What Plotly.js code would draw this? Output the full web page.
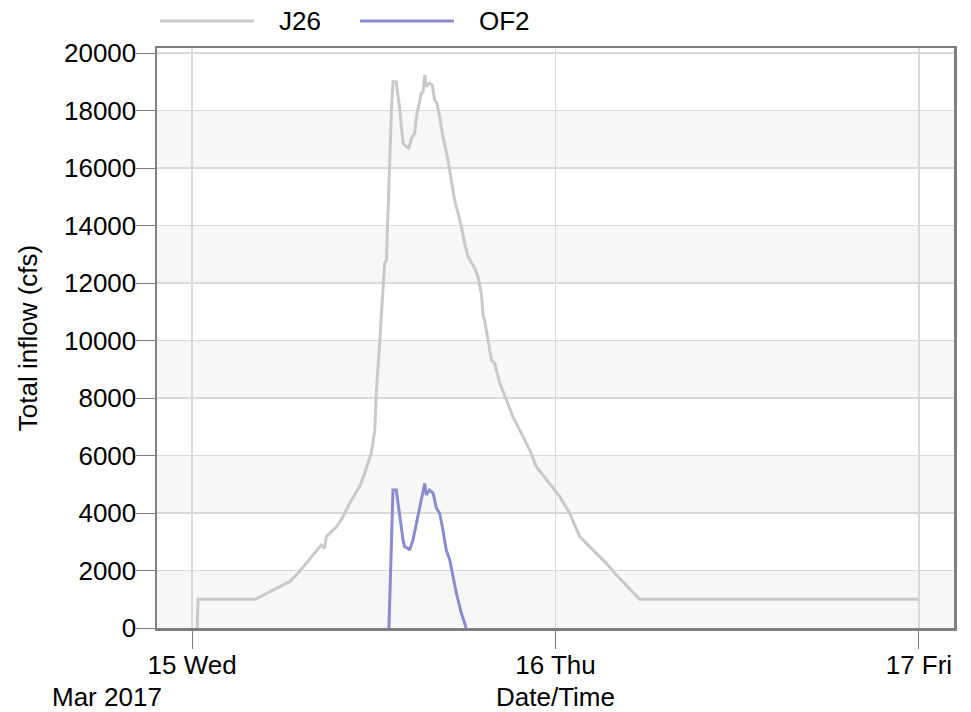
<!DOCTYPE html>
<html>
<head>
<meta charset="utf-8">
<script src="https://cdn.plot.ly/plotly-3.0.1.min.js"></script>
<style>html,body{margin:0;padding:0;background:#fff;}#chart{width:971px;height:712px;}</style>
</head>
<body>
<div id="chart"></div>
<script>
// ---- data ----
var j26Times = [
  "2017-03-15 00:20","2017-03-15 00:24","2017-03-15 04:10","2017-03-15 06:26","2017-03-15 06:59",
  "2017-03-15 07:52","2017-03-15 08:32","2017-03-15 08:45","2017-03-15 08:52","2017-03-15 09:32",
  "2017-03-15 09:58","2017-03-15 10:24","2017-03-15 11:04","2017-03-15 11:24","2017-03-15 11:37",
  "2017-03-15 11:50","2017-03-15 12:04","2017-03-15 12:10","2017-03-15 12:23","2017-03-15 12:36",
  "2017-03-15 12:43","2017-03-15 12:50","2017-03-15 12:56","2017-03-15 13:03","2017-03-15 13:10",
  "2017-03-15 13:16","2017-03-15 13:29","2017-03-15 13:43","2017-03-15 13:56","2017-03-15 14:09",
  "2017-03-15 14:19","2017-03-15 14:29","2017-03-15 14:42","2017-03-15 14:49","2017-03-15 15:02",
  "2017-03-15 15:08","2017-03-15 15:15","2017-03-15 15:22","2017-03-15 15:28","2017-03-15 15:41",
  "2017-03-15 15:52","2017-03-15 16:01","2017-03-15 16:10","2017-03-15 16:21","2017-03-15 16:34",
  "2017-03-15 16:54","2017-03-15 17:07","2017-03-15 17:20","2017-03-15 17:34","2017-03-15 17:47",
  "2017-03-15 18:00","2017-03-15 18:13","2017-03-15 18:40","2017-03-15 18:53","2017-03-15 19:06",
  "2017-03-15 19:13","2017-03-15 19:19","2017-03-15 19:32","2017-03-15 19:46","2017-03-15 19:59",
  "2017-03-15 20:19","2017-03-15 20:46","2017-03-15 21:11","2017-03-15 21:45","2017-03-15 22:18",
  "2017-03-15 22:44","2017-03-15 23:24","2017-03-15 23:50","2017-03-16 00:17","2017-03-16 00:56",
  "2017-03-16 01:36","2017-03-16 02:29","2017-03-16 03:22","2017-03-16 04:01","2017-03-16 05:34",
  "2017-03-17 00:00"
];
var j26Flow = [
  0,1000,1000,1610,1900,
  2480,2890,2770,3180,3520,
  3870,4340,4920,5380,5730,
  6080,6890,8160,9900,11640,
  12690,12800,14540,16280,18020,
  19000,19000,18020,16860,16740,
  16690,17030,17210,17780,18370,
  18600,18650,19240,18830,18950,
  18890,18370,18250,17780,17090,
  16280,15580,14890,14420,13960,
  13380,12920,12510,12220,11640,
  10890,10710,9960,9320,9210,
  8510,7930,7350,6770,6190,
  5610,5150,4860,4570,3990,
  3180,2710,2250,1840,1000,
  1000
];
var of2Times = [
  "2017-03-15 13:00","2017-03-15 13:16","2017-03-15 13:29","2017-03-15 13:43","2017-03-15 13:56",
  "2017-03-15 14:02","2017-03-15 14:16","2017-03-15 14:22","2017-03-15 14:35","2017-03-15 14:49",
  "2017-03-15 14:55","2017-03-15 15:08","2017-03-15 15:22","2017-03-15 15:28","2017-03-15 15:41",
  "2017-03-15 15:55","2017-03-15 16:08","2017-03-15 16:21","2017-03-15 16:34","2017-03-15 16:47",
  "2017-03-15 17:01","2017-03-15 17:27","2017-03-15 17:47","2017-03-15 18:06"
];
var of2Flow = [
  0,4800,4800,3870,3060,
  2830,2770,2710,3060,3640,
  3870,4450,5030,4630,4800,
  4690,4170,3990,3410,2710,
  2370,1220,510,0
];
var seriesNames = ["J26", "OF2"];
var xTickVals = ["2017-03-15", "2017-03-16", "2017-03-17"];
var xTickText = ["15 Wed", "16 Thu", "17 Fri"];
var yTickVals = [0,2000,4000,6000,8000,10000,12000,14000,16000,18000,20000];
var yTickText = ["0","2000","4000","6000","8000","10000","12000","14000","16000","18000","20000"];
var bandStarts = [0,4000,8000,12000,16000];
var bandWidth = 2000;

// ---- styles ----
var FONT = "Liberation Sans, Arial, sans-serif";
var colJ26 = "#c9c9c9";
var colOF2 = "#8b8bcf";

var traces = [
  {x: j26Times, y: j26Flow, name: seriesNames[0], type: "scatter", mode: "lines",
   line: {color: colJ26, width: 3}, showlegend: false},
  {x: of2Times, y: of2Flow, name: seriesNames[1], type: "scatter", mode: "lines",
   line: {color: colOF2, width: 3}, showlegend: false}
];

var shapes = bandStarts.map(function (b) {
  return {type: "rect", xref: "paper", yref: "y", x0: 0, x1: 1, y0: b, y1: b + bandWidth,
          fillcolor: "#f7f7f7", line: {width: 0}, layer: "below"};
});
// legend samples
shapes.push({type: "line", xref: "paper", yref: "paper", x0: 0.0038, x1: 0.1217, y0: 1.0466, y1: 1.0466,
             line: {color: colJ26, width: 3}});
shapes.push({type: "line", xref: "paper", yref: "paper", x0: 0.2547, x1: 0.3726, y0: 1.0466, y1: 1.0466,
             line: {color: colOF2, width: 3}});

var annotations = [
  {text: seriesNames[0], xref: "paper", yref: "paper", x: 0.1506, y: 1.0466, xanchor: "left", yanchor: "middle",
   showarrow: false, font: {family: FONT, size: 26, color: "#000"}},
  {text: seriesNames[1], xref: "paper", yref: "paper", x: 0.4011, y: 1.0466, xanchor: "left", yanchor: "middle",
   showarrow: false, font: {family: FONT, size: 26, color: "#000"}},
  {text: "Mar 2017", xref: "paper", yref: "paper", x: -0.1343, y: -0.119, xanchor: "left", yanchor: "middle",
   showarrow: false, font: {family: FONT, size: 26, color: "#000"}}
];

var layout = {
  width: 971, height: 712,
  margin: {l: 157, r: 17, t: 48, b: 84, pad: 0},
  paper_bgcolor: "#fff", plot_bgcolor: "#fff",
  font: {family: FONT, size: 26, color: "#000"},
  showlegend: false,
  xaxis: {
    type: "date",
    range: ["2017-03-14 21:41", "2017-03-17 02:19"],
    tickmode: "array", tickvals: xTickVals, ticktext: xTickText,
    ticks: "outside", ticklen: 18, tickcolor: "#7a7a7a", tickwidth: 1,
    ticklabelstandoff: -6,
    showgrid: true, gridcolor: "#d9d9d9", gridwidth: 1.5,
    showline: true, linecolor: "#7f7f7f", linewidth: 2.5, mirror: true,
    zeroline: false,
    tickfont: {family: FONT, size: 26, color: "#000"},
    title: {text: "Date/Time", font: {family: FONT, size: 26, color: "#000"}, standoff: 14}
  },
  yaxis: {
    range: [0, 20174],
    tickmode: "array", tickvals: yTickVals, ticktext: yTickText,
    ticks: "outside", ticklen: 19, tickcolor: "#7a7a7a", tickwidth: 1,
    ticklabelstandoff: -6,
    showgrid: true, gridcolor: "#d9d9d9", gridwidth: 1.5,
    showline: true, linecolor: "#7f7f7f", linewidth: 2.5, mirror: true,
    zeroline: false,
    tickfont: {family: FONT, size: 26, color: "#000"},
    title: {text: "Total inflow (cfs)", font: {family: FONT, size: 26, color: "#000"}, standoff: 19}
  },
  shapes: shapes,
  annotations: annotations
};

Plotly.newPlot("chart", traces, layout, {displayModeBar: false, staticPlot: true});
</script>
</body>
</html>
